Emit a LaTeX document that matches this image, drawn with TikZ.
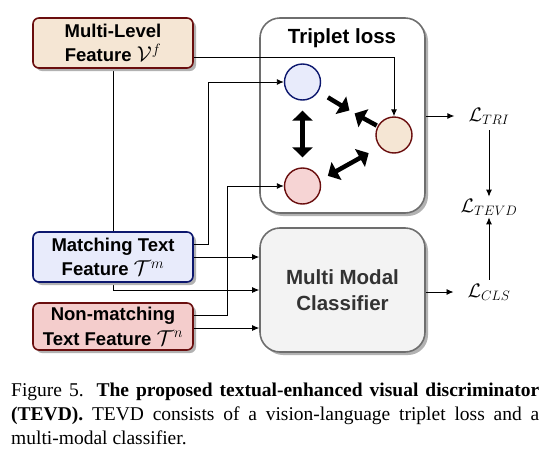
\RequirePackage{fix-cm}
\documentclass[tikz,border=0pt]{standalone}
\usepackage{fontspec}
\setmainfont{Liberation Serif}
\setsansfont{Liberation Sans}
\usetikzlibrary{arrows.meta,shadows,backgrounds,positioning}

\definecolor{vfill}{HTML}{F5E6D4}
\definecolor{vline}{HTML}{6A0E0E}
\definecolor{mfill}{HTML}{E8EBFB}
\definecolor{mline}{HTML}{0C176E}
\definecolor{nfill}{HTML}{F4CDCC}
\definecolor{nline}{HTML}{6A0E0E}
\definecolor{boxline}{HTML}{6E6E6E}
\definecolor{clsfill}{HTML}{F3F3F3}

\newcommand{\featmath}[1]{{\fontsize{21.5}{24}\selectfont$#1$}}

\begin{document}
\begin{tikzpicture}[%
      x=1pt, y=-1pt,
      every node/.style={inner sep=2pt,
                         font={\fontsize{18.5}{22}\selectfont\sffamily\bfseries}},
      shade/.style={drop shadow={shadow xshift=3pt, shadow yshift=-3pt,
                                 fill=black!30, opacity=1}},
      feat/.style={shade, draw, line width=1.6pt, rounded corners=6pt,
                   align=center, minimum width=160pt, minimum height=50pt,
                   inner sep=1pt,
                   font={\fontsize{18.5}{24.5}\selectfont\sffamily\bfseries}},
      bigbox/.style={shade, draw=boxline, line width=1.6pt, rounded corners=20pt,
                     minimum width=165pt},
      dot/.style={circle, draw, line width=1.4pt, minimum size=36pt, inner sep=0pt},
      loss/.style={font={\fontsize{19.5}{22}\selectfont}},
      thin arrow/.style={line width=0.9pt, -{Latex[length=7pt,width=6pt]}},
      fat arrow/.style={line width=4.5pt, -{Triangle[length=10pt,width=20pt]}},
      fat both/.style={line width=4.5pt, {Triangle[length=10pt,width=20pt]}-{Triangle[length=10pt,width=20pt]}}
    ]
    \useasboundingbox (0,0) rectangle (547,461);

    \node [bigbox, fill=white, minimum height=195pt] (trip) at (342.5,115.5) {};
    \node [font={\fontsize{20.5}{24}\selectfont\sffamily\bfseries}] (trip title)
      at (342,38) {Triplet loss};
    \node [bigbox, fill=clsfill, minimum height=124pt, align=center,
           text=black!80, font={\fontsize{20.5}{26}\selectfont\sffamily\bfseries}]
      (cls) at (342.5,290) {Multi Modal\\Classifier};

    \node [feat, fill=vfill, draw=vline] (vis feat) at (113,43)
      {Multi-Level\\Feature \featmath{\mathcal{V}^f}};
    \node [feat, fill=mfill, draw=mline] (match feat) at (113,257)
      {Matching Text\\Feature \featmath{\mathcal{T}^m}};
    \node [feat, fill=nfill, draw=nline, minimum height=47pt] (nonmatch feat)
      at (113,326.5) {Non-matching\\Text Feature \featmath{\mathcal{T}^n}};

    \node [dot, fill=mfill, draw=mline] (anchor dot) at (302.5,82) {};
    \node [dot, fill=vfill, draw=vline] (vis dot) at (394,135) {};
    \node [dot, fill=nfill!85, draw=vline] (neg dot) at (302.5,186) {};
    \coordinate (meet) at (352,112);

    \node [loss] (L tri) at (489,116) {$\mathcal{L}_{TRI}$};
    \node [loss] (L tevd) at (489,207) {$\mathcal{L}_{TEVD}$};
    \node [loss] (L cls) at (489,292) {$\mathcal{L}_{CLS}$};

    % inputs
    \begin{scope}[on background layer]
      \draw [thin arrow] (vis feat.south) |- (cls.west);
    \end{scope}
    \draw [thin arrow] ([yshift=-14pt]vis feat.east) -| (vis dot.north);
    \draw [thin arrow] ([yshift=13pt]match feat.east) -- ++(15,0) |- (anchor dot.west);
    \draw [thin arrow] (match feat.east) -- (match feat.east -| cls.west);
    \draw [thin arrow] ([yshift=11pt]nonmatch feat.east) -- ++(34,0) |- (neg dot.west);
    \draw [thin arrow] ([yshift=-1.5pt]nonmatch feat.east) -- ([yshift=-1.5pt]nonmatch feat.east -| cls.west);

    % triplet
    \draw [fat arrow, shorten <=11pt, shorten >=3pt] (anchor dot) -- (meet);
    \draw [fat arrow, shorten <=1pt, shorten >=3pt] (vis dot) -- (meet);
    \draw [fat both, shorten <=10pt, shorten >=10pt] (anchor dot.south) -- (neg dot.north);
    \draw [fat both, shorten <=29pt, shorten >=29pt] ([yshift=-4pt]neg dot.center) -- ([yshift=-4pt]vis dot.center);

    % losses
    \draw [thin arrow, shorten >=12pt] (trip.east |- L tri) -- (L tri.west);
    \draw [thin arrow, shorten >=12pt] (cls.east |- L cls) -- (L cls.west);
    \draw [thin arrow, shorten <=4pt] (L tri.south) -- (L tevd.north);
    \draw [thin arrow, shorten <=2pt] (L cls.north) -- (L tevd.south);

    \node [anchor=north west, inner sep=0pt, text width=528pt, align=justify,
           font={\fontsize{19.5}{24}\selectfont\rmfamily}] (caption) at (11,383)
      {\hyphenpenalty=10000\exhyphenpenalty=10000
       Figure 5. \textbf{The proposed textual-enhanced visual discriminator}\linebreak
       \textbf{(TEVD).} TEVD consists of a vision-language triplet loss and a\linebreak
       multi-modal classifier.};
  \end{tikzpicture}
\end{document}
